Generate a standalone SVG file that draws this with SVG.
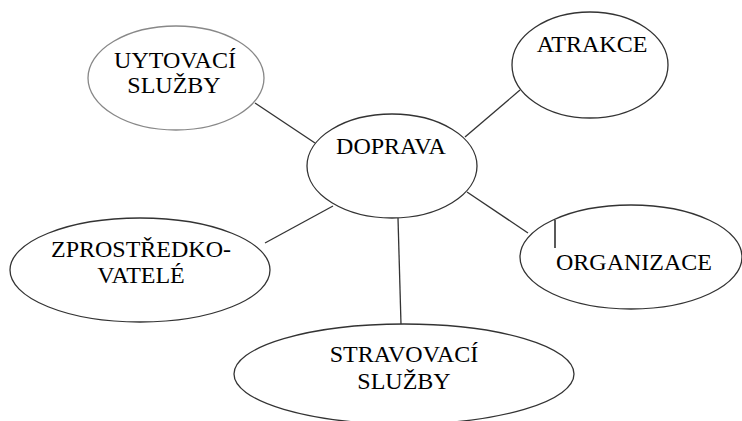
<svg xmlns="http://www.w3.org/2000/svg" width="742" height="421" viewBox="0 0 742 421">
<style>
.n{fill:#fff;stroke:#333;stroke-width:1.3}
.g{stroke:#888}
.c line{stroke:#333;stroke-width:1.3}
text{font-family:"Liberation Serif","Times New Roman",serif;font-size:24px;fill:#000}
</style>
<rect width="742" height="421" fill="#fff"/>
<g class="c" id="connectors">
<line x1="255" y1="103" x2="315" y2="143"/>
<line x1="465" y1="137" x2="520" y2="90"/>
<line x1="265" y1="243" x2="333" y2="206"/>
<line x1="467" y1="192" x2="528" y2="233"/>
<line x1="398" y1="218" x2="401" y2="324"/>
</g>
<g id="uytovaci">
<ellipse class="n g" cx="176" cy="78" rx="88" ry="52"/>
<text x="175" y="68" text-anchor="middle">UYTOVACÍ</text>
<text x="174" y="93" text-anchor="middle">SLUŽBY</text>
</g>
<g id="atrakce">
<ellipse class="n" cx="590" cy="65" rx="78" ry="53"/>
<text x="592" y="52" text-anchor="middle">ATRAKCE</text>
</g>
<g id="doprava">
<ellipse class="n" cx="392" cy="166" rx="85" ry="52"/>
<text x="391" y="154" text-anchor="middle">DOPRAVA</text>
</g>
<g id="zprostredkovatele">
<ellipse class="n" cx="140" cy="270" rx="130" ry="52"/>
<text x="141" y="257" text-anchor="middle">ZPROSTŘEDKO-</text>
<text x="141" y="283" text-anchor="middle">VATELÉ</text>
</g>
<g id="organizace">
<ellipse class="n" cx="631" cy="257" rx="111" ry="52"/>
<line x1="555" y1="220" x2="555" y2="248" stroke="#000" stroke-width="1.3"/>
<text x="634" y="270" text-anchor="middle">ORGANIZACE</text>
</g>
<g id="stravovaci">
<ellipse class="n" cx="404" cy="374" rx="170" ry="50"/>
<text x="404" y="362" text-anchor="middle">STRAVOVACÍ</text>
<text x="404" y="389" text-anchor="middle">SLUŽBY</text>
</g>
</svg>
